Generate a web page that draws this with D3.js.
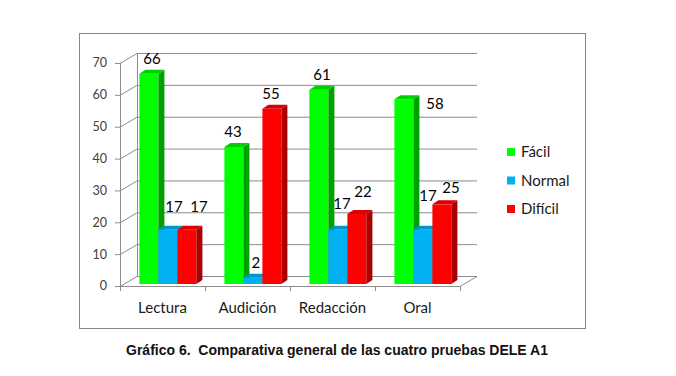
<!DOCTYPE html>
<html>
<head>
<meta charset="utf-8">
<script src="https://cdn.jsdelivr.net/npm/d3@7"></script>
<style>
  body { margin: 0; background: #fff; }
  svg { display: block; }
</style>
</head>
<body>
<div id="chart"></div>
<script>
const categories = ["Lectura", "Audición", "Redacción", "Oral"];
const seriesNames = ["Fácil", "Normal", "Difícil"];
const facil = [66, 43, 61, 58];
const normal = [17, 2, 17, 17];
const dificil = [17, 55, 22, 25];
const yTicks = [0, 10, 20, 30, 40, 50, 60, 70];

const width = 676, height = 376;
const font = "Lato, 'Open Sans', sans-serif";

// front plane of the plot, and the depth of the 3d box
const plot = { left: 120, right: 460, top: 63, bottom: 286 };
const depth = { dx: 17, dy: -10 };
const barShift = { dx: 3.4, dy: -2 };
const barSide = { dx: 6, dy: -4 };

const colors = {
  "Fácil":   { front: "#00ff00", side: "#00a000", top: "#00d000" },
  "Normal":  { front: "#00b0f0", side: "#0078a8", top: "#0096cc" },
  "Difícil": { front: "#ff0000", side: "#a80000", top: "#d80000" }
};

// Excel moved a few labels to avoid overlaps
const labelNudge = {
  "Lectura|Normal": [3, -8], "Lectura|Difícil": [9, -8],
  "Audición|Fácil": [-4, 0], "Audición|Difícil": [-4, 0],
  "Redacción|Normal": [1, -11], "Redacción|Difícil": [3, -7],
  "Oral|Fácil": [28, 20], "Oral|Normal": [2, -19], "Oral|Difícil": [6, -1]
};

const seriesValues = [facil, normal, dificil];
const data = categories.map((c, i) => ({
  cat: c,
  values: seriesNames.map((s, j) => ({ cat: c, name: s, value: seriesValues[j][i] }))
}));

const svg = d3.select("#chart").append("svg")
  .attr("width", width).attr("height", height);

// outer frame
svg.append("rect")
  .attr("x", 79.5).attr("y", 33.5).attr("width", 506).attr("height", 295)
  .attr("fill", "#fff").attr("stroke", "#868686");

const x0 = d3.scaleBand().domain(categories).range([plot.left, plot.right]);
const x1 = d3.scaleBand().domain(seriesNames).range([16, 73]);
const y = d3.scaleLinear().domain([0, 70]).range([plot.bottom, plot.top]);

const grid = svg.append("g").attr("stroke", "#8c8c8c").attr("stroke-width", 1).attr("fill", "none");

// back wall gridlines
grid.selectAll("line.back").data(yTicks).join("line")
  .attr("x1", plot.left + depth.dx).attr("x2", plot.right + depth.dx)
  .attr("y1", d => y(d) + depth.dy + 0.5).attr("y2", d => y(d) + depth.dy + 0.5);

// side wall lines
grid.selectAll("line.side").data(yTicks).join("line")
  .attr("x1", plot.left).attr("y1", d => y(d) + 0.5)
  .attr("x2", plot.left + depth.dx).attr("y2", d => y(d) + depth.dy + 0.5);

// back-left edge and front y axis
grid.append("line")
  .attr("x1", plot.left + depth.dx + 0.5).attr("x2", plot.left + depth.dx + 0.5)
  .attr("y1", y(0) + depth.dy).attr("y2", y(70) + depth.dy);
grid.append("line")
  .attr("x1", plot.left + 0.5).attr("x2", plot.left + 0.5)
  .attr("y1", y(0)).attr("y2", y(70));

// floor
grid.append("line")
  .attr("x1", plot.left).attr("x2", plot.right)
  .attr("y1", y(0) + 0.5).attr("y2", y(0) + 0.5);
grid.append("line")
  .attr("x1", plot.right).attr("y1", y(0) + 0.5)
  .attr("x2", plot.right + depth.dx).attr("y2", y(0) + depth.dy + 0.5);

// y ticks
grid.selectAll("line.ytick").data(yTicks).join("line")
  .attr("x1", plot.left - 5).attr("x2", plot.left)
  .attr("y1", d => y(d) + 0.5).attr("y2", d => y(d) + 0.5);

// x ticks at category boundaries
const xBounds = categories.map(c => x0(c)).concat([plot.right]);
grid.selectAll("line.xtick").data(xBounds).join("line")
  .attr("x1", d => d + 0.5).attr("x2", d => d + 0.5)
  .attr("y1", y(0)).attr("y2", y(0) + 5);

// y tick labels
svg.append("g").selectAll("text").data(yTicks).join("text")
  .attr("x", plot.left - 13).attr("y", d => y(d))
  .attr("dy", "0.35em").attr("text-anchor", "end")
  .attr("font-family", font).attr("font-size", 12.5).attr("fill", "#404040")
  .text(d => d);

// category labels
svg.append("g").selectAll("text").data(categories).join("text")
  .attr("x", d => x0(d) + x0.bandwidth() / 2).attr("y", 313)
  .attr("text-anchor", "middle")
  .attr("font-family", font).attr("font-size", 15).attr("fill", "#1a1a1a")
  .text(d => d);

// 3d bars
const bars = svg.append("g");
data.forEach(g => {
  g.values.forEach(d => {
    const xl = x0(d.cat) + x1(d.name) + barShift.dx;
    const xr = xl + x1.bandwidth();
    const yt = y(d.value) + barShift.dy;
    const yb = y(0) + barShift.dy;
    const c = colors[d.name];
    bars.append("rect")
      .attr("x", xl).attr("y", yt).attr("width", xr - xl).attr("height", yb - yt)
      .attr("fill", c.front);
    bars.append("polygon")
      .attr("points", [[xr, yt], [xr + barSide.dx, yt + barSide.dy], [xr + barSide.dx, yb + barSide.dy], [xr, yb]].join(" "))
      .attr("fill", c.side);
    bars.append("polygon")
      .attr("points", [[xl, yt], [xl + barSide.dx, yt + barSide.dy], [xr + barSide.dx, yt + barSide.dy], [xr, yt]].join(" "))
      .attr("fill", c.top);
  });
});

// data labels
const labels = svg.append("g");
data.forEach(g => {
  g.values.forEach(d => {
    const n = labelNudge[d.cat + "|" + d.name] || [0, 0];
    labels.append("text")
      .attr("x", x0(d.cat) + x1(d.name) + barShift.dx + x1.bandwidth() / 2 + 3 + n[0])
      .attr("y", y(d.value) + barShift.dy - 10 + n[1])
      .attr("text-anchor", "middle")
      .attr("font-family", font).attr("font-size", 15).attr("fill", "#000")
      .text(d.value);
  });
});

// legend
const legend = svg.append("g").attr("transform", "translate(507,152)");
const lg = legend.selectAll("g").data(seriesNames).join("g")
  .attr("transform", (d, i) => `translate(0,${i * 28.5})`);
lg.append("rect").attr("x", 0).attr("y", -4).attr("width", 8).attr("height", 8)
  .attr("fill", d => colors[d].front);
lg.append("text").attr("x", 14).attr("dy", "0.35em")
  .attr("font-family", font).attr("font-size", 15).attr("fill", "#1a1a1a")
  .text(d => d);

// caption
svg.append("text")
  .attr("x", 337).attr("y", 355).attr("text-anchor", "middle")
  .attr("font-family", "'Liberation Sans', Arial, sans-serif")
  .attr("font-size", 14).attr("font-weight", "bold").attr("fill", "#111")
  .style("white-space", "pre")
  .text("Gráfico 6.  Comparativa general de las cuatro pruebas DELE A1");
</script>
</body>
</html>
